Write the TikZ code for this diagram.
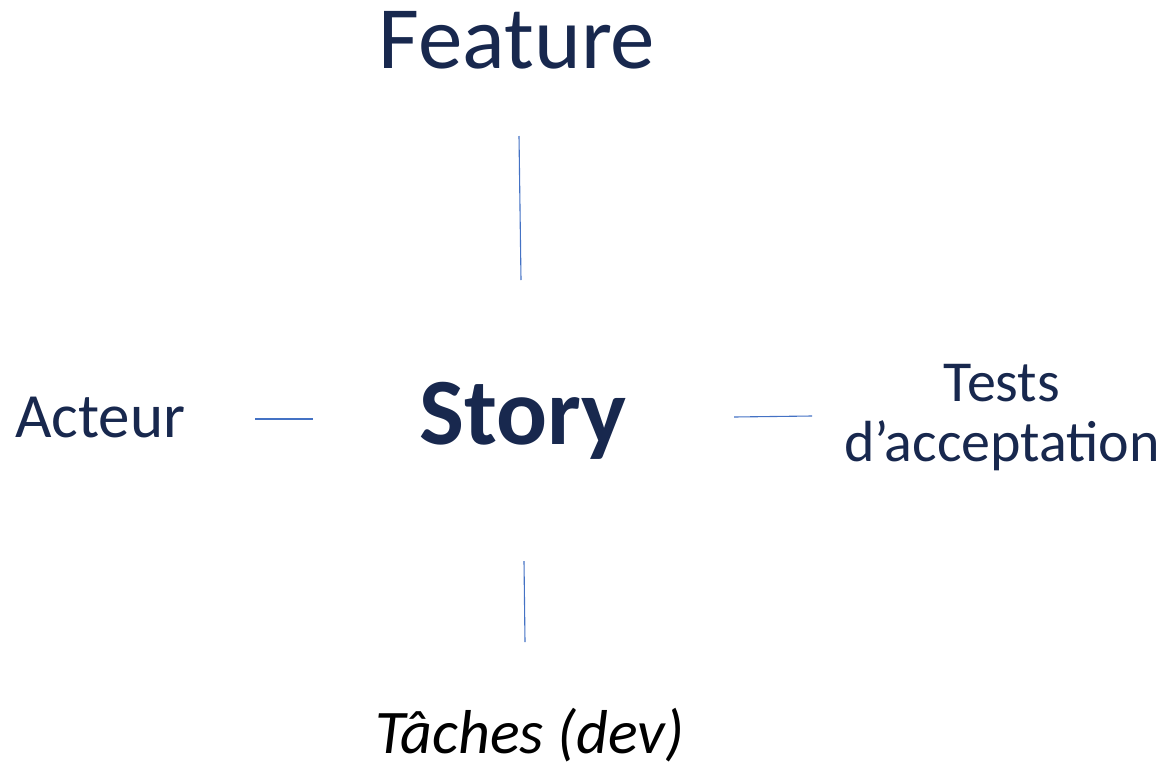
\documentclass[tikz,border=0pt]{standalone}
\usepackage{fontspec}
\setmainfont{Carlito}
\usepackage{tikz}
\usetikzlibrary{positioning}
\definecolor{navy}{RGB}{24,40,78}
\definecolor{linkblue}{RGB}{68,114,196}

\begin{document}
\begin{tikzpicture}[
  x = 1pt, y = -1pt,
  word/.style = {anchor=base,inner sep=0pt,text=navy},
  link/.style = {draw=linkblue,line width=1.1pt}
  ]
  \useasboundingbox (0,0) rectangle (1167,766);

  \node[word,font=\fontsize{89}{96}\selectfont] (feature) at (517,68) {Feature};
  \node[word,font=\fontsize{95}{100}\selectfont\bfseries] (story) at (523,444) {Story};
  \node[word,font=\fontsize{63}{70}\selectfont] (acteur) at (100,437) {Acteur};
  \node[word,align=center,font=\fontsize{58}{60}\selectfont] (tests) at (1002,461) {Tests\\d’acceptation};
  \node[word,text=black,font=\fontsize{62}{70}\selectfont\itshape] (taches) at (530,753) {Tâches (dev)};

  % free ends of the short links
  \coordinate (f1) at (519,136);
  \coordinate (f2) at (521,280);
  \coordinate (a1) at (255,419);
  \coordinate (a2) at (313,419);
  \coordinate (t1) at (734,417);
  \coordinate (t2) at (812,416);
  \coordinate (d1) at (524,561);
  \coordinate (d2) at (525,642);

  \draw[link] (f1) -- (f2);
  \draw[link] (a1) -- (a2);
  \draw[link] (t1) -- (t2);
  \draw[link] (d1) -- (d2);
\end{tikzpicture}
\end{document}
